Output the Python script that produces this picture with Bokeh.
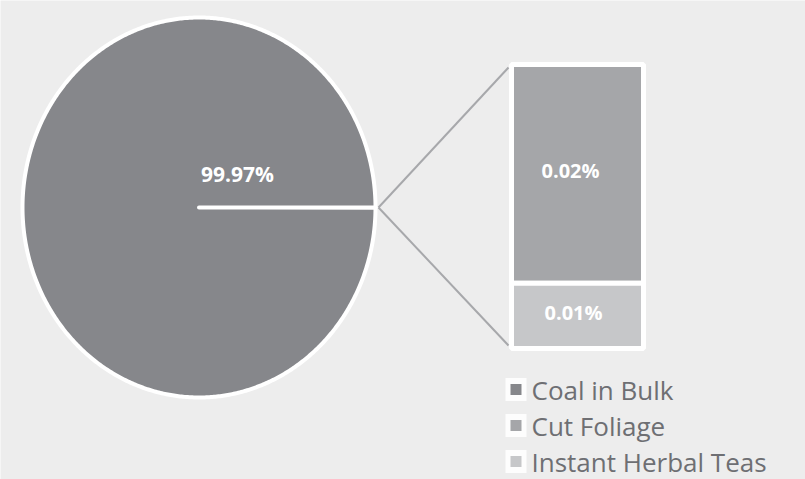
import numpy as np
from bokeh.plotting import figure
from bokeh.models import Range1d, ColumnDataSource
from bokeh.core.properties import value
from bokeh.embed import file_html
from bokeh.resources import INLINE

# ---- data ----
categories = ["Coal in Bulk", "Cut Foliage", "Instant Herbal Teas"]
shares = [99.97, 0.0231, 0.0069]
share_labels = ["99.97%", "0.02%", "0.01%"]
colors = ["#86878B", "#A5A6A9", "#C6C7C9"]

# ---- layout (pixel-like data space) ----
W, H = 805, 479
p = figure(width=W, height=H, output_backend="svg", toolbar_location=None,
           x_range=Range1d(0, W), y_range=Range1d(H, 0),
           min_border=0, outline_line_color=None)
p.axis.visible = False
p.grid.visible = False
p.background_fill_color = "#EDEDED"
p.border_fill_color = "#EDEDED"

# pie geometry
cx, cy, rx, ry = 198.5, 207.0, 176.5, 190.0
total = sum(shares)
other = sum(shares[1:])
other_frac = other / total
a0 = np.pi * other_frac  # half of the 'other' slice on each side of 3 o'clock
ang = np.linspace(a0, 2 * np.pi - a0, 720)
xs_main = [cx] + list(cx + rx * np.cos(ang)) + [cx]
ys_main = [cy] + list(cy - ry * np.sin(ang)) + [cy]
ang_o = np.linspace(-a0, a0, 5)
xs_o = [cx] + list(cx + rx * np.cos(ang_o)) + [cx]
ys_o = [cy] + list(cy - ry * np.sin(ang_o)) + [cy]
p.patches(xs=[xs_o, xs_main], ys=[ys_o, ys_main],
          fill_color=[colors[1], colors[0]],
          line_color="white", line_width=4, line_join="round", line_cap="round")

# bar of pie
bx0, bx1, btop, bbot = 511.0, 643.0, 64.0, 348.0
scale = (bbot - btop) / other
tops, bottoms = [], []
cur = btop
for v in shares[1:]:
    tops.append(cur)
    cur += v * scale
    bottoms.append(cur)
src = ColumnDataSource(dict(left=[bx0] * 2, right=[bx1] * 2, top=tops, bottom=bottoms,
                            color=colors[1:], label=share_labels[1:],
                            xm=[(bx0 + bx1) / 2 - 7, (bx0 + bx1) / 2 - 4],
                            ym=[(t + b) / 2 - 3 for t, b in zip(tops, bottoms)]))
p.quad(left="left", right="right", top="top", bottom="bottom", fill_color="color",
       line_color="white", line_width=5, source=src)

# connector lines
ex = cx + rx + 3
p.segment(x0=[ex, ex], y0=[cy, cy], x1=[bx0 - 3, bx0 - 3], y1=[btop + 3, bbot - 3],
          line_color="#A7A8AB", line_width=2)

# labels
p.text(x=[237], y=[173], text=[share_labels[0]], text_align="center",
       text_baseline="middle", text_color="white", text_font=value("Open Sans"),
       text_font_style="bold", text_font_size="21px")
p.text(x="xm", y="ym", text="label", source=src, text_align="center",
       text_baseline="middle", text_color="white", text_font=value("Open Sans"),
       text_font_style="bold", text_font_size="20px")

# legend
lx, ly0, ldy = 515.5, 389.0, 36.0
lys = [ly0 + i * ldy for i in range(len(categories))]
p.rect(x=[lx] * 3, y=lys, width=21, height=23, fill_color="white", fill_alpha=0.85,
       line_color=None)
p.rect(x=[lx] * 3, y=lys, width=11, height=11, fill_color=colors, line_color=None)
p.text(x=[531] * 3, y=lys, text=categories, text_align="left", text_baseline="middle",
       text_color="#6E6F73", text_font=value("Open Sans"), text_font_size="26px")

open("out.html", "w").write(file_html(p, INLINE))
